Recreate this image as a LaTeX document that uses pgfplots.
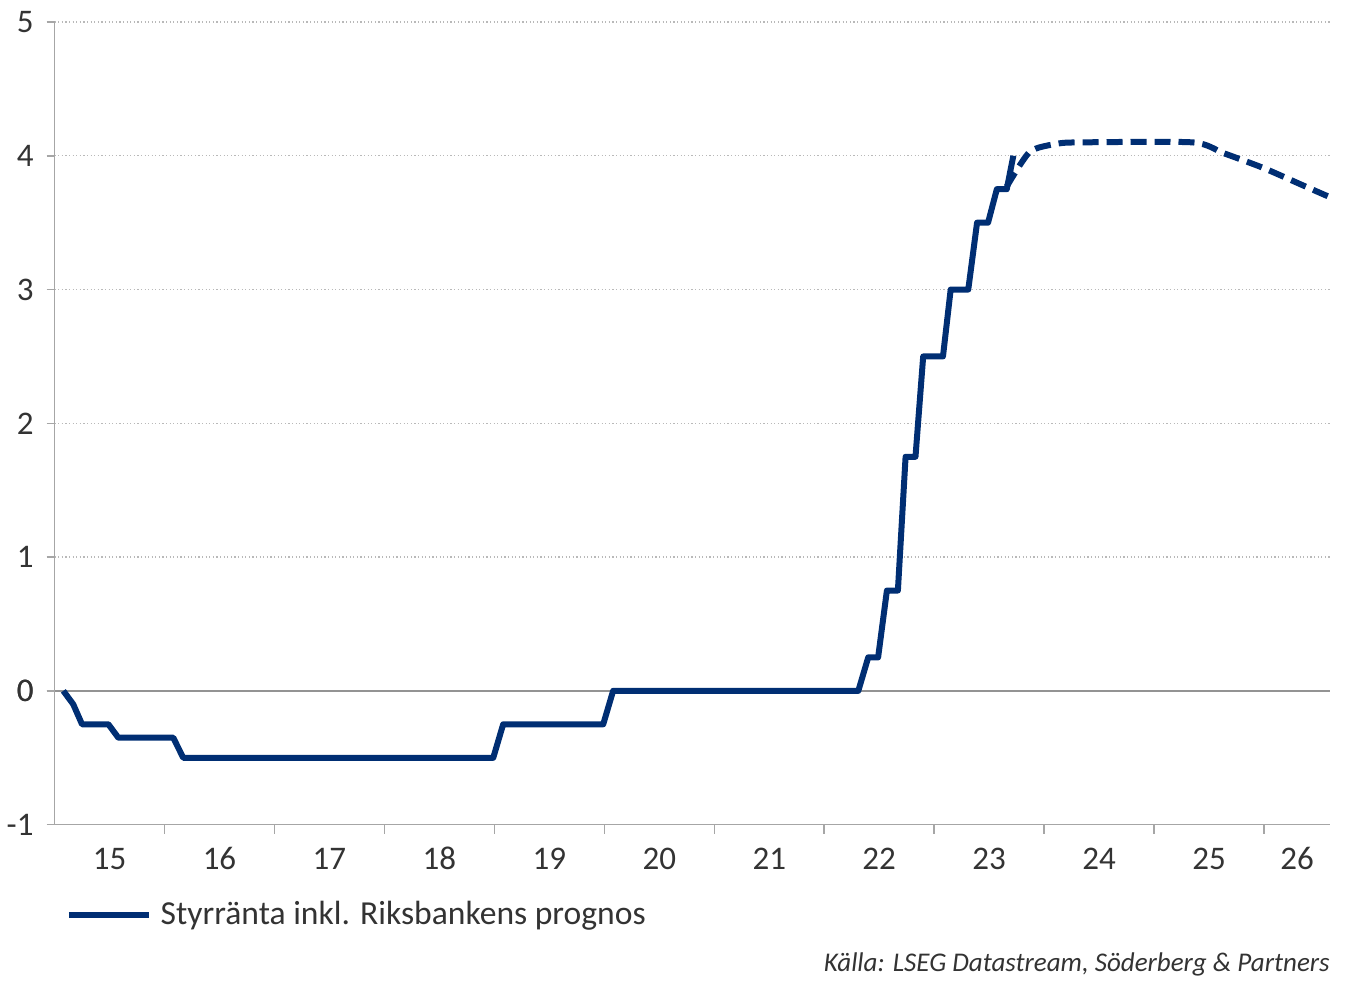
\documentclass[border=0pt]{standalone}
\usepackage{fontspec}
\setmainfont{Carlito}
\usepackage{pgfplots}
\pgfplotsset{compat=1.18}
\definecolor{navy}{RGB}{0,46,115}
\begin{document}
\begin{tikzpicture}
\begin{axis}[
  scale only axis,
  width=638pt, height=401.5pt,
  xmin=15, xmax=26.6, ymin=-1, ymax=5,
  axis lines=left,
  axis line style={-, gray!70, line width=0.75pt},
  tick align=outside,
  major tick length=4pt, minor tick length=4.5pt,
  tick style={gray!70, line width=0.75pt},
  every major x tick/.append style={draw=none},
  xtick={15.5,16.5,17.5,18.5,19.5,20.5,21.5,22.5,23.5,24.5,25.5,26.3},
  xticklabels={15,16,17,18,19,20,21,22,23,24,25,26},
  minor xtick={16,17,...,26},
  ytick={-1,0,...,5},
  ymajorgrids,
  grid style={gray!55, line width=0.6pt, dash pattern=on 0.6pt off 1.2pt},
  extra y ticks={0},
  extra y tick style={grid=major, major grid style={solid, gray!85, line width=0.9pt}},
  ticklabel style={font=\fontsize{16.5}{19}\selectfont, text=black!80},
  xticklabel style={yshift=-4pt, text height=11pt, text depth=0pt},
  yticklabel style={xshift=-3pt},
  /pgf/number format/assume math mode=true,
  clip=false,
  legend style={at={(0.0085,-0.112)}, anchor=west, draw=none, fill=none,
    inner sep=0pt, font=\fontsize{16.8}{19}\selectfont, text=black!80,
    nodes={inner xsep=4.5pt}},
  legend image code/.code={\draw[#1] (0pt,0pt) -- (40pt,0pt);},
]
% styrränta, utfall
\addplot[navy, line width=3pt, line join=round] coordinates {
(15.08,0) (15.17,-0.10) (15.25,-0.25) (15.49,-0.25) (15.58,-0.35)
(16.08,-0.35) (16.17,-0.50) (18.99,-0.50) (19.08,-0.25) (19.99,-0.25)
(20.08,0) (22.31,0) (22.40,0.25) (22.49,0.25) (22.57,0.75) (22.67,0.75)
(22.74,1.75) (22.83,1.75) (22.90,2.50) (23.08,2.50) (23.15,3.00) (23.31,3.00)
(23.39,3.50) (23.49,3.50) (23.57,3.75) (23.66,3.75) (23.72,4.00)
};
\addlegendentry{Styrränta inkl. Riksbankens prognos}
% Riksbankens prognos
\addplot[navy, line width=3pt, dash pattern=on 8pt off 4pt, smooth, tension=0.4, forget plot] coordinates {
(23.66,3.77) (23.87,4.03) (24.12,4.09) (24.33,4.10) (25.35,4.10)
(25.63,4.02) (25.99,3.91) (26.35,3.78) (26.6,3.69)
};
\node[anchor=base east, inner sep=0pt, font=\itshape\fontsize{13.5}{16}\selectfont, text=black!80]
  at (rel axis cs:1,-0.183) {Källa: LSEG Datastream, Söderberg \& Partners};
\end{axis}
\path ([shift={(-27pt,-81pt)}]current axis.south west) rectangle ([shift={(9pt,11pt)}]current axis.north east);
\end{tikzpicture}
\end{document}
